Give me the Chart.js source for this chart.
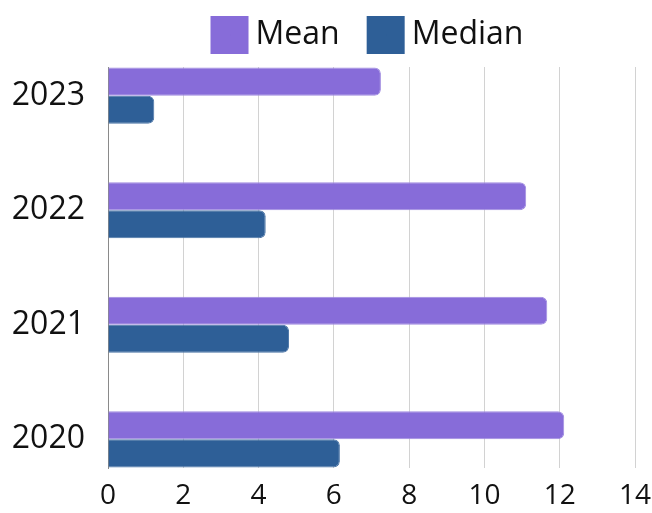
<!DOCTYPE html>
<html>
<head>
<meta charset="utf-8">
<script src="https://cdn.jsdelivr.net/npm/chart.js@4/dist/chart.umd.min.js"></script>
<style>
html,body{margin:0;padding:0;background:#fff;}
#wrap{width:652px;height:513px;position:relative;}
</style>
</head>
<body>
<div id="wrap"><canvas id="c" width="652" height="513"></canvas></div>
<script>
const categories = ['2020', '2021', '2022', '2023'];
const meanValues = [12.12, 11.67, 11.11, 7.25];
const medianValues = [6.16, 4.81, 4.19, 1.23];
const xTickValues = [0, 2, 4, 6, 8, 10, 12, 14];
const seriesNames = ['Mean', 'Median'];
const seriesColors = ['#876cd9', '#2e5f97'];
const seriesBorders = ['#a08ce0', '#4a74a6'];

const FONT = "'Open Sans', sans-serif";
const LEGEND_PAD = 36;

const legendPlacer = {
  id: 'legendPlacer',
  afterLayout(chart) {
    const lg = chart.legend;
    const ca = chart.chartArea;
    lg.left = ca.left;
    lg.right = ca.right;
    lg.top = 19 - LEGEND_PAD;
  }
};

new Chart(document.getElementById('c'), {
  type: 'bar',
  data: {
    labels: categories,
    datasets: [
      {
        label: seriesNames[0],
        data: meanValues,
        backgroundColor: seriesColors[0],
        borderColor: seriesBorders[0],
        borderWidth: 1,
        borderRadius: 6
      },
      {
        label: seriesNames[1],
        data: medianValues,
        backgroundColor: seriesColors[1],
        borderColor: seriesBorders[1],
        borderWidth: 1,
        borderRadius: 6
      }
    ]
  },
  plugins: [legendPlacer],
  options: {
    indexAxis: 'y',
    responsive: false,
    maintainAspectRatio: false,
    animation: false,
    categoryPercentage: 0.49,
    barPercentage: 1,
    layout: { padding: { top: -11, left: 0, right: 0, bottom: 0 } },
    plugins: {
      tooltip: { enabled: false },
      legend: {
        display: true,
        position: 'top',
        align: 'center',
        labels: {
          boxWidth: 20,
          boxHeight: 20,
          padding: LEGEND_PAD,
          color: '#111',
          font: { family: FONT, size: 32 },
          generateLabels(chart) {
            const items = Chart.defaults.plugins.legend.labels.generateLabels(chart);
            return items.map((it, i) => Object.assign(it, {
              fillStyle: seriesColors[i],
              strokeStyle: seriesColors[i],
              lineWidth: 18,
              borderRadius: 0
            }));
          }
        }
      }
    },
    scales: {
      x: {
        type: 'linear',
        position: 'bottom',
        min: 0,
        max: 14,
        afterBuildTicks(scale) {
          scale.ticks = xTickValues.map(v => ({ value: v }));
        },
        afterFit(scale) {
          scale.height = 45;
          scale.paddingRight = 17;
          scale.paddingLeft = 0;
        },
        ticks: {
          color: '#111',
          font: { family: FONT, size: 28 },
          padding: 11,
          maxRotation: 0
        },
        grid: { color: '#d2d2d2', drawTicks: false, lineWidth: 1 },
        border: { display: false }
      },
      y: {
        type: 'linear',
        position: 'left',
        offset: false,
        min: 2019.75,
        max: 2023.25,
        afterBuildTicks(scale) {
          scale.ticks = categories.map(c => ({ value: Number(c) }));
        },
        afterFit(scale) {
          scale.width = 108;
        },
        ticks: {
          color: '#111',
          font: { family: FONT, size: 32 },
          padding: 23,
          callback: (v) => String(v)
        },
        grid: { display: false, drawTicks: false, offset: false },
        border: { display: true, color: '#8a8a8a', width: 1 }
      }
    }
  }
});
</script>
</body>
</html>
